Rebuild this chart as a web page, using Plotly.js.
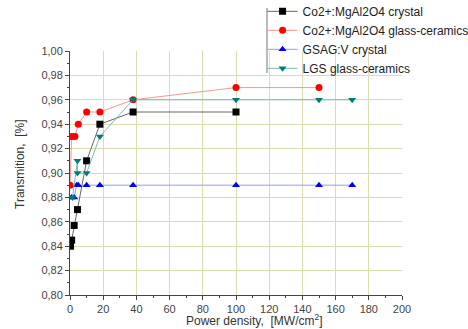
<!DOCTYPE html>
<html><head><meta charset="utf-8">
<script src="https://cdn.plot.ly/plotly-3.0.1.min.js"></script>
<style>body{margin:0;background:#fff}#c{width:468px;height:329px}</style>
</head><body><div id="c"></div>
<script>
const crystalX = [0.3, 1, 2.5, 4.5, 10, 18, 38, 100];
const crystalY = [0.840, 0.845, 0.857, 0.870, 0.910, 0.940, 0.950, 0.950];
const glassCerX = [0, 1, 3, 5, 10, 18, 38, 100, 150];
const glassCerY = [0.890, 0.930, 0.930, 0.940, 0.950, 0.950, 0.960, 0.970, 0.970];
const gsagX = [1, 2.5, 4, 5, 10, 18, 38, 100, 150, 170];
const gsagY = [0.880, 0.880, 0.890, 0.890, 0.890, 0.890, 0.890, 0.890, 0.890, 0.890];
const lgsX = [1.5, 4.5, 4.5, 10, 18, 38, 100, 150, 170];
const lgsY = [0.880, 0.910, 0.900, 0.900, 0.930, 0.960, 0.960, 0.960, 0.960];
const names = ['Co2+:MgAl2O4 crystal', 'Co2+:MgAl2O4 glass-ceramics', 'GSAG:V crystal', 'LGS glass-ceramics'];
const xTitle = 'Power density,  [MW/cm<sup>2</sup>]';
const yTitle = 'Transmition,  [%]';

function tr(x, y, name, mc, lc, sym) {
  return {x: x, y: y, name: name, type: 'scatter', mode: 'lines+markers',
    line: {color: lc, width: 0.9},
    marker: {color: mc, symbol: sym, size: 7}};
}
const data = [
  tr(crystalX, crystalY, names[0], '#000000', '#555555', 'square'),
  tr(glassCerX, glassCerY, names[1], '#ff0000', '#f08a8a', 'circle'),
  tr(gsagX, gsagY, names[2], '#0000ee', '#8c8cff', 'triangle-up'),
  tr(lgsX, lgsY, names[3], '#007b78', '#6fb2b0', 'triangle-down')
];
const gridC = '#dcdcb0';
const layout = {
  width: 468, height: 329,
  margin: {l: 70, r: 66, t: 51, b: 34, autoexpand: false},
  paper_bgcolor: '#fff', plot_bgcolor: '#fff',
  separators: ', ',
  font: {family: 'Liberation Sans, Arial, sans-serif', color: '#333', size: 11},
  showlegend: true,
  legend: {x: 0.58, y: 1.222, xanchor: 'left', yanchor: 'top',
    bgcolor: 'rgba(0,0,0,0)', font: {size: 12, color: '#222'},
    itemwidth: 30, tracegroupgap: 0},
  xaxis: {range: [0, 200], dtick: 20, tick0: 0, showgrid: true, gridcolor: gridC, gridwidth: 1,
    showline: true, linecolor: '#444', linewidth: 1, ticks: 'outside', ticklen: 4, tickcolor: '#444',
    zeroline: false, tickfont: {size: 11, color: '#444'},
    minor: {ticks: 'outside', ticklen: 2, dtick: 10, tickcolor: '#444', showgrid: false}},
  yaxis: {range: [0.80, 1.00], dtick: 0.02, tick0: 0.8, tickformat: '.2f', showgrid: true, gridcolor: gridC, gridwidth: 1,
    showline: true, linecolor: '#444', linewidth: 1, ticks: 'outside', ticklen: 4, tickcolor: '#444',
    zeroline: false, tickfont: {size: 11, color: '#444'},
    minor: {ticks: 'outside', ticklen: 2, dtick: 0.01, tickcolor: '#444', showgrid: false}},
  annotations: [
    {text: xTitle, xref: 'paper', yref: 'paper', x: (254 - 70) / 332, y: (295 - 320) / 244,
      xanchor: 'center', yanchor: 'middle', showarrow: false, font: {size: 12, color: '#333'}},
    {text: yTitle, xref: 'paper', yref: 'paper', x: (20 - 70) / 332, y: (295 - 164) / 244,
      xanchor: 'center', yanchor: 'middle', showarrow: false, textangle: -90, font: {size: 12, color: '#333'}}
  ],
  shapes: [
    {type: 'line', xref: 'paper', yref: 'paper', x0: (267 - 70) / 332, x1: (267 - 70) / 332,
      y0: (295 - 8) / 244, y1: (295 - 73) / 244, line: {color: '#777', width: 1}}
  ]
};
Plotly.newPlot('c', data, layout, {displayModeBar: false, staticPlot: true});
</script></body></html>
